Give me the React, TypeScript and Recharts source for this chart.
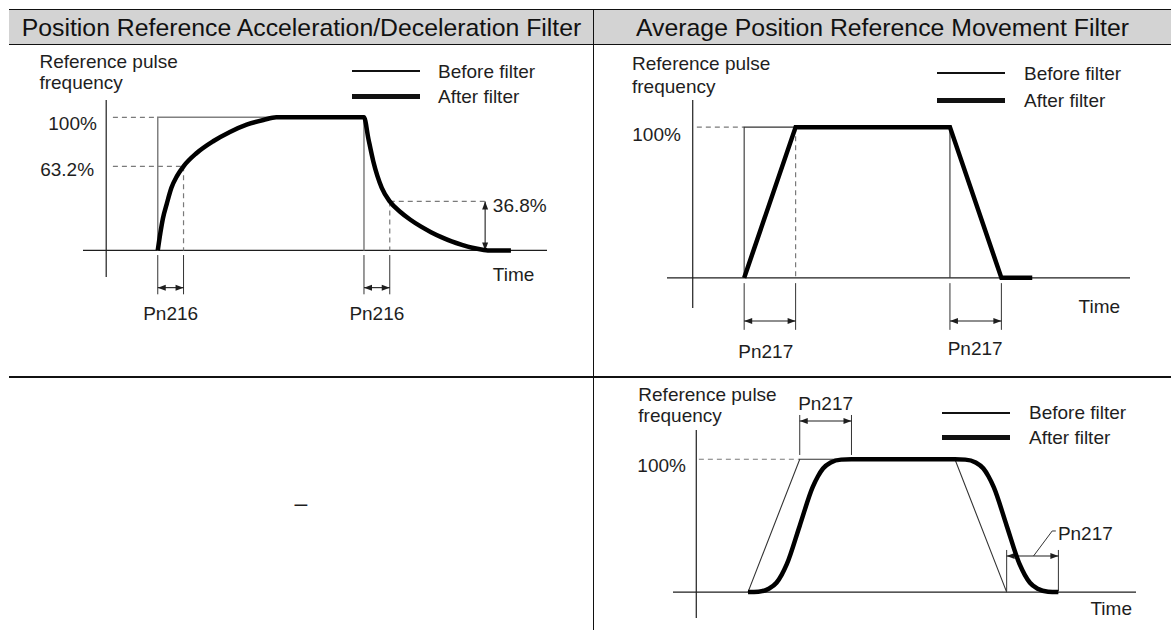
import { LineChart, Line, XAxis, YAxis, ReferenceLine, ReferenceDot, Legend } from 'recharts';

/* ------------------------------------------------------------------ */
/*  Data (time in arbitrary units, value in % of reference frequency)  */
/* ------------------------------------------------------------------ */

// Position reference acceleration/deceleration filter (Pn216 = 10 units)
const accBeforeT = [20, 20, 100, 100];
const accBeforeV = [0, 100, 100, 0];
const accAfterT = [20, 21, 22, 23.5, 25.3, 27.5, 30, 35, 41.5, 48, 54.5, 61, 66, 100, 101.7, 103.6, 106.9, 110, 114, 118, 122, 126, 130, 134, 138, 142, 146, 148, 157];
const accAfterV = [0, 13, 24, 35, 47, 56, 63.2, 73, 82, 89, 94.5, 98, 100, 100, 84, 67, 47, 36.8, 29, 23, 18, 13.7, 10, 6.8, 4.2, 2, 0.5, 0, 0];

// Average position reference movement filter (Pn217 = 10 units)
const avgBeforeT = [10, 10, 50, 50];
const avgBeforeV = [0, 100, 100, 0];
const avgAfterT = [10, 20, 50, 60, 66];
const avgAfterV = [0, 100, 100, 0, 0];

// Same filter applied to a trapezoidal reference
const trapBeforeT = [10, 20, 50, 60];
const trapBeforeV = [0, 100, 100, 0];
const trapAfterT = [10, 12, 14, 15.5, 16.5, 17.5, 20, 22.5, 23.5, 24.5, 26, 28, 30, 50, 52, 54, 55.5, 56.5, 57.5, 60, 62.5, 63.5, 64.5, 66, 68, 70];
const trapAfterV = [0, 0.3, 2.5, 7, 13, 21, 50, 79, 87, 93, 97.5, 99.7, 100, 100, 99.7, 97.5, 93, 87, 79, 50, 21, 13, 7, 2.5, 0.3, 0];

const SERIES_NAMES = ['Before filter', 'After filter'];

const zip = (t: number[], v: number[]) => t.map((x, i) => ({ t: x, v: v[i] }));

/* ------------------------------------------------------------------ */
/*  Helpers                                                            */
/* ------------------------------------------------------------------ */

const FONT = "'Liberation Sans', Arial, Helvetica, sans-serif";
const INK = '#1e1e1e';

type Seg = [number, number, number, number];
type Lbl = { x: number; y: number; text: string; pos: 'left' | 'right' | 'center' };

function ArrowSeg(props: any) {
  const { x1, y1, x2, y2 } = props;
  const dx = x2 - x1;
  const dy = y2 - y1;
  const len = Math.hypot(dx, dy) || 1;
  const ux = dx / len;
  const uy = dy / len;
  const L = 8;
  const W = 3;
  const head = (tx: number, ty: number, ax: number, ay: number) =>
    `${tx},${ty} ${tx - ax * L - ay * W},${ty - ay * L + ax * W} ${tx - ax * L + ay * W},${ty - ay * L - ax * W}`;
  return (
    <g>
      <line x1={x1} y1={y1} x2={x2} y2={y2} stroke={INK} strokeWidth={1.1} />
      <polygon points={head(x2, y2, ux, uy)} fill={INK} />
      <polygon points={head(x1, y1, -ux, -uy)} fill={INK} />
    </g>
  );
}

function makeLegend(gap: number, rowH: number) {
  return (props: any) => {
    const items = [...(props.payload || [])].sort(
      (a: any, b: any) => SERIES_NAMES.indexOf(a.value) - SERIES_NAMES.indexOf(b.value),
    );
    return (
      <div>
        {items.map((it: any) => (
          <div key={it.value} style={{ display: 'flex', alignItems: 'center', height: rowH }}>
            <div style={{ width: 68, height: it.value === 'After filter' ? 5 : 1.2, background: '#111' }} />
            <span style={{ marginLeft: gap, fontSize: 19, color: INK, lineHeight: 1, whiteSpace: 'nowrap' }}>{it.value}</span>
          </div>
        ))}
      </div>
    );
  };
}

interface DiagramProps {
  width: number;
  height: number;
  margin: { top: number; right: number; bottom: number; left: number };
  xDomain: [number, number];
  yDomain: [number, number];
  before: { t: number; v: number }[];
  after: { t: number; v: number }[];
  afterType: 'monotone' | 'linear';
  beforeColor: string;
  beforeWidth: number;
  axes: Seg[];
  dashed: Seg[];
  ticks: Seg[];
  arrows: Seg[];
  labels: Lbl[];
  legend: { left: number; top: number; gap: number; rowH: number };
}

function Diagram(p: DiagramProps) {
  const labelStyle = (l: Lbl) => ({ value: l.text, position: l.pos, offset: 0, fontSize: 19, fill: INK });
  return (
    <LineChart width={p.width} height={p.height} margin={p.margin}>
      <XAxis type="number" dataKey="t" domain={p.xDomain} hide />
      <YAxis type="number" dataKey="v" domain={p.yDomain} hide />
      {p.axes.map((s, i) => (
        <ReferenceLine key={`a${i}`} segment={[{ x: s[0], y: s[1] }, { x: s[2], y: s[3] }]} stroke={INK} strokeWidth={1.2} ifOverflow="visible" />
      ))}
      {p.dashed.map((s, i) => (
        <ReferenceLine key={`d${i}`} segment={[{ x: s[0], y: s[1] }, { x: s[2], y: s[3] }]} stroke="#7a7a7a" strokeWidth={1.2} strokeDasharray="5 4" ifOverflow="visible" />
      ))}
      {p.ticks.map((s, i) => (
        <ReferenceLine key={`k${i}`} segment={[{ x: s[0], y: s[1] }, { x: s[2], y: s[3] }]} stroke="#333" strokeWidth={1} ifOverflow="visible" />
      ))}
      {p.arrows.map((s, i) => (
        <ReferenceLine key={`r${i}`} segment={[{ x: s[0], y: s[1] }, { x: s[2], y: s[3] }]} ifOverflow="visible" shape={(sp: any) => <ArrowSeg {...sp} />} />
      ))}
      {p.labels.map((l, i) => (
        <ReferenceDot key={`l${i}`} x={l.x} y={l.y} r={0} fill="none" stroke="none" ifOverflow="visible" label={labelStyle(l)} />
      ))}
      <Line
        name="Before filter"
        data={p.before}
        dataKey="v"
        type="linear"
        stroke={p.beforeColor}
        strokeWidth={p.beforeWidth}
        dot={false}
        activeDot={false}
        isAnimationActive={false}
      />
      <Line
        name="After filter"
        data={p.after}
        dataKey="v"
        type={p.afterType}
        stroke="#000"
        strokeWidth={4.5}
        strokeLinejoin="miter"
        dot={false}
        activeDot={false}
        isAnimationActive={false}
      />
      <Legend
        layout="horizontal"
        verticalAlign="middle"
        align="center"
        content={makeLegend(p.legend.gap, p.legend.rowH)}
        wrapperStyle={{ left: p.legend.left, top: p.legend.top, width: 'auto' }}
      />
    </LineChart>
  );
}

/* ------------------------------------------------------------------ */
/*  Component                                                          */
/* ------------------------------------------------------------------ */

export default function App() {
  const headerStyle: React.CSSProperties = {
    position: 'absolute',
    top: 10,
    height: 35,
    display: 'flex',
    alignItems: 'center',
    justifyContent: 'center',
    fontSize: 24.8,
    color: '#111',
    whiteSpace: 'nowrap',
  };

  return (
    <div style={{ position: 'absolute', left: 0, top: 0, width: 1171, height: 630, background: '#fff', fontFamily: FONT, overflow: 'hidden' }}>
      {/* table frame */}
      <div style={{ position: 'absolute', left: 9, top: 9, width: 1162, height: 36, background: '#d3d3d3', borderTop: '1.5px solid #111', borderBottom: '1.5px solid #111', boxSizing: 'border-box' }} />
      <div style={{ ...headerStyle, left: 9, width: 585 }}>Position Reference Acceleration/Deceleration Filter</div>
      <div style={{ ...headerStyle, left: 594, width: 577 }}>Average Position Reference Movement Filter</div>
      <div style={{ position: 'absolute', left: 593, top: 9, width: 1.2, height: 621, background: '#111' }} />
      <div style={{ position: 'absolute', left: 9, top: 376, width: 1162, height: 1.5, background: '#111' }} />
      <div style={{ position: 'absolute', left: 9, top: 377, width: 584, height: 253, display: 'flex', alignItems: 'center', justifyContent: 'center', fontSize: 23, color: INK }}>–</div>

      {/* top left */}
      <div style={{ position: 'absolute', left: 9, top: 46 }}>
        <Diagram
          width={585}
          height={330}
          margin={{ top: 54, right: 47, bottom: 99, left: 74 }}
          xDomain={[-9, 171]}
          yDomain={[-20, 113]}
          before={zip(accBeforeT, accBeforeV)}
          after={zip(accAfterT, accAfterV)}
          afterType="monotone"
          beforeColor="#808080"
          beforeWidth={1.5}
          axes={[[-9, 0, 171, 0], [0, -20, 0, 113]]}
          dashed={[[2.6, 100, 20, 100], [2.6, 63.2, 30, 63.2], [30, 63.2, 30, 0], [110, 36.8, 147, 36.8], [110, 36.8, 110, 0]]}
          ticks={[[20, -3.5, 20, -33], [30, -3.5, 30, -33], [100, -3.5, 100, -33], [110, -3.5, 110, -33]]}
          arrows={[[20, -28, 30, -28], [100, -28, 110, -28], [147, 36.8, 147, 0]]}
          labels={[
            { x: -25.9, y: 141.9, text: 'Reference pulse', pos: 'right' },
            { x: -25.9, y: 126.1, text: 'frequency', pos: 'right' },
            { x: -3.6, y: 95.5, text: '100%', pos: 'left' },
            { x: -4.7, y: 61.2, text: '63.2%', pos: 'left' },
            { x: 150, y: 33.7, text: '36.8%', pos: 'right' },
            { x: 150, y: -18.2, text: 'Time', pos: 'right' },
            { x: 25, y: -47.3, text: 'Pn216', pos: 'center' },
            { x: 105, y: -47.3, text: 'Pn216', pos: 'center' },
          ]}
          legend={{ left: 343, top: 12.5, gap: 18, rowH: 25 }}
        />
      </div>

      {/* top right */}
      <div style={{ position: 'absolute', left: 594, top: 46 }}>
        <Diagram
          width={577}
          height={330}
          margin={{ top: 54, right: 41, bottom: 68, left: 73 }}
          xDomain={[-5, 85]}
          yDomain={[-20, 118]}
          before={zip(avgBeforeT, avgBeforeV)}
          after={zip(avgAfterT, avgAfterV)}
          afterType="linear"
          beforeColor="#333"
          beforeWidth={1.1}
          axes={[[-5, 0, 85, 0], [0, -20, 0, 118]]}
          dashed={[[0.8, 100, 10, 100], [20, 100, 20, 0]]}
          ticks={[[10, -3.5, 10, -34.5], [20, -3.5, 20, -34.5], [50, -3.5, 50, -34.5], [60, -3.5, 60, -34.5]]}
          arrows={[[10, -28.6, 20, -28.6], [50, -28.6, 60, -28.6]]}
          labels={[
            { x: -11.8, y: 142.3, text: 'Reference pulse', pos: 'right' },
            { x: -11.8, y: 127.3, text: 'frequency', pos: 'right' },
            { x: -2.3, y: 95.2, text: '100%', pos: 'left' },
            { x: 75, y: -18.6, text: 'Time', pos: 'right' },
            { x: 14.2, y: -48.5, text: 'Pn217', pos: 'center' },
            { x: 54.9, y: -46.7, text: 'Pn217', pos: 'center' },
          ]}
          legend={{ left: 343, top: 13.25, gap: 19, rowH: 27.5 }}
        />
      </div>

      {/* bottom right */}
      <div style={{ position: 'absolute', left: 594, top: 377 }}>
        <Diagram
          width={577}
          height={253}
          margin={{ top: 53, right: 35, bottom: 12, left: 79 }}
          xDomain={[-4.5, 85]}
          yDomain={[-19.5, 122]}
          before={zip(trapBeforeT, trapBeforeV)}
          after={zip(trapAfterT, trapAfterV)}
          afterType="monotone"
          beforeColor="#333"
          beforeWidth={1.1}
          axes={[[-4.5, 0, 85, 0], [0, -19.5, 0, 122]]}
          dashed={[[0.5, 100, 20, 100]]}
          ticks={[[20, 103.2, 20, 133.3], [30, 103.2, 30, 133.3], [60, 0.8, 60, 31.7], [70, 0.8, 70, 31.7], [65.2, 27.2, 68.8, 46], [68.8, 46, 69.5, 46]]}
          arrows={[[20, 128.8, 30, 128.8], [60, 27.2, 70, 27.2]]}
          labels={[
            { x: -11.2, y: 148.9, text: 'Reference pulse', pos: 'right' },
            { x: -11.2, y: 132.8, text: 'frequency', pos: 'right' },
            { x: -2, y: 95.7, text: '100%', pos: 'left' },
            { x: 76.2, y: -12.2, text: 'Time', pos: 'right' },
            { x: 25, y: 142.1, text: 'Pn217', pos: 'center' },
            { x: 69.9, y: 44.2, text: 'Pn217', pos: 'right' },
          ]}
          legend={{ left: 348, top: 23.85, gap: 19, rowH: 24.3 }}
        />
      </div>
    </div>
  );
}
